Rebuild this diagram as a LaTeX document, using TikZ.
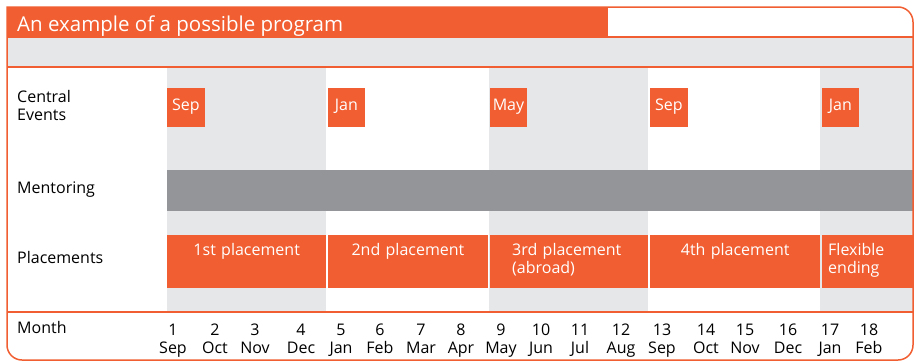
\documentclass[tikz,border=0pt]{standalone}
\usepackage{fontspec}
\setmainfont{Open Sans}
\usepackage{xcolor}
\usetikzlibrary{positioning}
\definecolor{brandOrange}{RGB}{241,94,49}
\definecolor{panelGray}{RGB}{230,231,232}
\definecolor{barGray}{RGB}{147,149,152}
\tikzset{%
  % Specifications for style of boxes and labels:
         base/.style = {inner sep=0pt, font=\fontsize{16}{18}\selectfont},
    titleText/.style = {base, anchor=base west, text=white,
                        font=\fontsize{20.5}{24}\selectfont},
     rowLabel/.style = {base, anchor=base west, align=left, text=black},
   monthLabel/.style = {base, anchor=base, align=center, text=black},
        event/.style = {base, anchor=north west, fill=brandOrange, text=white,
                        minimum width=37.5pt, text height=22pt, text depth=17pt},
    placement/.style = {base, anchor=north west, fill=brandOrange, text=white,
                        align=center, text height=20pt, text depth=33pt},
    mentorBar/.style = {base, anchor=north west, fill=barGray,
                        minimum width=746pt, minimum height=41pt},
        frame/.style = {draw=brandOrange, line width=1.5pt},
}
\begin{document}
\begin{tikzpicture}[x=1pt, y=-1pt]
  \useasboundingbox (0,0) rectangle (914,362);
  % Background bands and shaded columns
  \fill[brandOrange] (7,7) rectangle (608,37);
  \fill[panelGray]   (7,37) rectangle (913,67);
  \foreach \xa/\xb in {167/326, 489/648, 820/913}
    \fill[panelGray] (\xa,67) rectangle (\xb,312);

  % Title and row labels
  \node (title)     [titleText] at (17,31) {An example of a possible program};
  \node (events)    [rowLabel]  at (17,120) {Central\\Events};
  \node (mentoring) [rowLabel]  at (17,193) {Mentoring};
  \node (placements)[rowLabel]  at (17,263) {Placements};
  \node (month)     [rowLabel]  at (17,333) {Month};

  % Central events
  \foreach \x/\mon [count=\i] in {167/Sep, 327.5/Jan, 489.5/May, 650/Sep, 821.5/Jan}
    \node (ev\i) [event] at (\x,88) {\mon};

  % Mentoring
  \node (mentorBar) [mentorBar] at (167,170) {};

  % Placements
  \node (plA) [placement, text width=159pt]   at (167,235)   {1st placement};
  \node (plB) [placement, text width=160.5pt] at (327.5,235) {2nd placement};
  \node (plC) [placement, align=left, text width=113.5pt, inner xsep=22.5pt]
                                              at (489.5,235) {3rd placement\\(abroad)};
  \node (plD) [placement, text width=170pt]   at (650,235)   {4th placement};
  \node (plE) [placement, align=left, text width=78.5pt, inner xsep=6.5pt]
                                              at (821.5,235) {Flexible\\ending};

  % Months
  \foreach \x/\mon [count=\i] in {173/Sep, 215/Oct, 255/Nov, 301/Dec, 341/Jan,
      380/Feb, 421/Mar, 461/Apr, 501/May, 541/Jun, 580/Jul, 621/Aug, 662/Sep,
      706/Oct, 745/Nov, 788/Dec, 830/Jan, 869/Feb}
    \node (m\i) [monthLabel] at (\x,353) {\i\\\mon};

  % Frame and separator lines
  \draw[frame] (7,37) -- (913,37);
  \draw[frame] (7,67) -- (913,67);
  \draw[frame] (7,312) -- (913,312);
  \draw[frame] (7,7) [rounded corners=15pt] -- (913,7) -- (913,360)
               -- (7,360) [sharp corners] -- cycle;
\end{tikzpicture}
\end{document}
